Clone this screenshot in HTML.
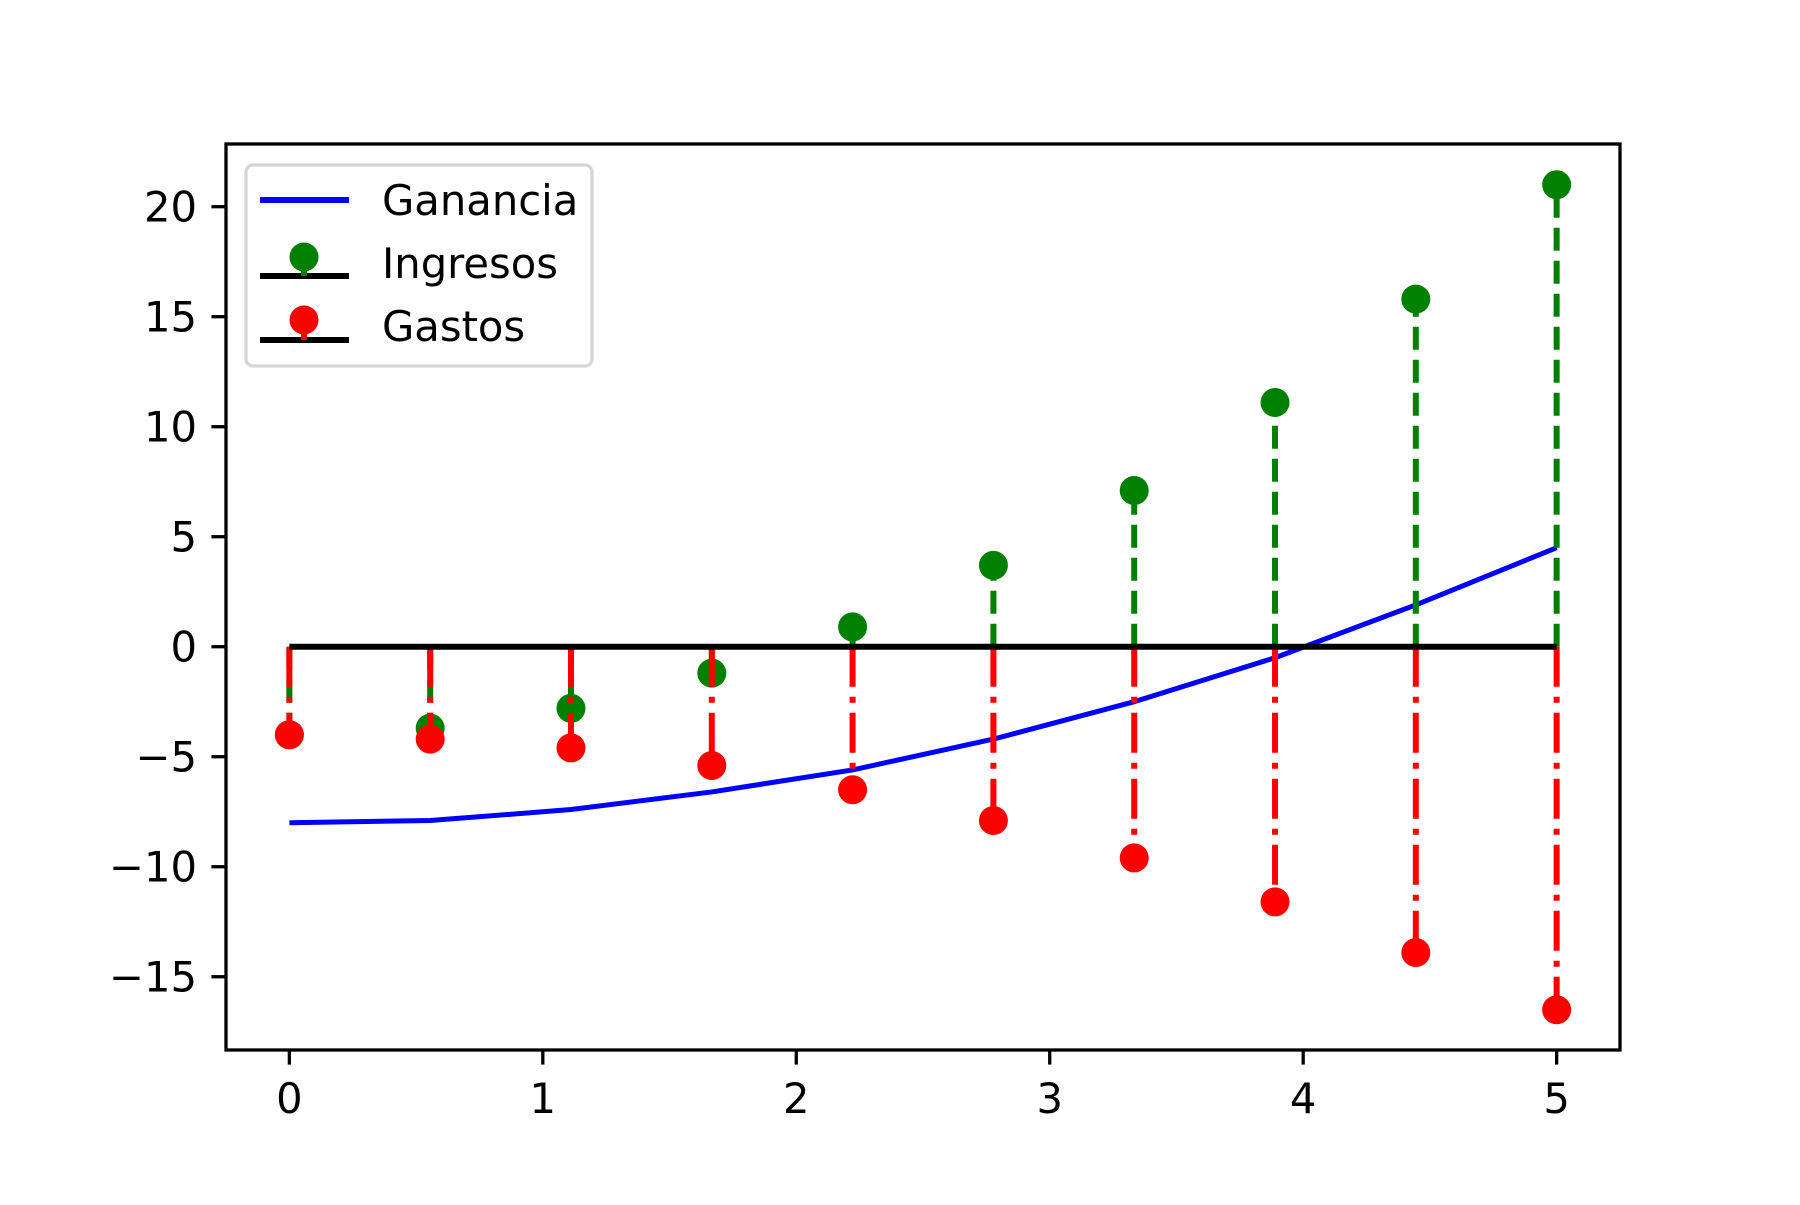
<!DOCTYPE html>
<html><head><meta charset="utf-8"><style>
html,body{margin:0;padding:0;background:#fff;}
svg text{font-family:"DejaVu Sans","Liberation Sans",sans-serif;font-size:41.7px;fill:#000;}
</style></head><body>
<svg id="chart" width="1800" height="1200" viewBox="0 0 1800 1200" xmlns="http://www.w3.org/2000/svg">
<rect width="1800" height="1200" fill="#fff"/>
<g id="plot"></g>
</svg>
<script>
const xValues = [0, 0.5556, 1.1111, 1.6667, 2.2222, 2.7778, 3.3333, 3.8889, 4.4444, 5];
const ingresos = [-4, -3.7, -2.8, -1.2, 0.9, 3.7, 7.1, 11.1, 15.8, 21.0];
const gastos = [-4, -4.2, -4.6, -5.4, -6.5, -7.9, -9.6, -11.6, -13.9, -16.5];
const ganancia = [-8, -7.9, -7.4, -6.6, -5.6, -4.2, -2.5, -0.5, 1.9, 4.5];
const xTicks = [0, 1, 2, 3, 4, 5];
const yTicks = [-15, -10, -5, 0, 5, 10, 15, 20];

const L=226, R=1620, T=144, B=1050;
const xmin=-0.25, xmax=5.25, ymin=-18.33, ymax=22.85;
const sx = v => L + (v - xmin) / (xmax - xmin) * (R - L);
const sy = v => B - (v - ymin) / (ymax - ymin) * (B - T);
const NS = "http://www.w3.org/2000/svg";
const g = document.getElementById('plot');
function mk(tag, attrs, parent){const e=document.createElementNS(NS,tag);for(const k in attrs)e.setAttribute(k,attrs[k]);(parent||g).appendChild(e);return e;}

// Ganancia line
const gp = mk('polyline',{points:xValues.map((x,i)=>sx(x)+','+sy(ganancia[i])).join(' '),fill:'none',stroke:'#0000ff','stroke-width':5});



// Ingresos stems
xValues.forEach((x,i)=>{
  const s = mk('line',{x1:sx(x),x2:sx(x),y1:sy(0),y2:sy(ingresos[i]),stroke:'#008000','stroke-width':6,'stroke-dasharray':'23 10'});
  
  
  const c = mk('circle',{cx:sx(x),cy:sy(ingresos[i]),r:14.5,fill:'#008000'});
  
  
});
// Gastos stems
xValues.forEach((x,i)=>{
  const s = mk('line',{x1:sx(x),x2:sx(x),y1:sy(0),y2:sy(gastos[i]),stroke:'#ff0000','stroke-width':6,'stroke-dasharray':'40 10 6 10'});
  
  
  const c = mk('circle',{cx:sx(x),cy:sy(gastos[i]),r:14.5,fill:'#ff0000'});
  
  
});
// baseline
const bl = mk('line',{x1:sx(xValues[0]),x2:sx(xValues[xValues.length-1]),y1:sy(0),y2:sy(0),stroke:'#000','stroke-width':6});



// axes frame
const fr = mk('rect',{x:L,y:T,width:R-L,height:B-T,fill:'none',stroke:'#000','stroke-width':3.3});



// ticks
xTicks.forEach(t=>{
  const tk = mk('line',{x1:sx(t),x2:sx(t),y1:B,y2:B+14.6,stroke:'#000','stroke-width':3.3});
  
  
  const tx = mk('text',{x:sx(t),y:B+63,'text-anchor':'middle'});
  tx.textContent = String(t);
  
  
});
yTicks.forEach(t=>{
  const tk = mk('line',{x1:L-14.6,x2:L,y1:sy(t),y2:sy(t),stroke:'#000','stroke-width':3.3});
  
  
  const tx = mk('text',{x:L-29,y:sy(t)+15,'text-anchor':'end'});
  tx.textContent = (t<0?'\u2212'+(-t):String(t));
  
  
});

// legend
const lg = mk('g',{});


mk('rect',{x:246,y:165,width:346,height:201,rx:7,fill:'#fff','fill-opacity':0.8,stroke:'#d6d6d6','stroke-width':3.3},lg);
mk('line',{x1:260,x2:349,y1:200,y2:200,stroke:'#0000ff','stroke-width':6},lg);
mk('line',{x1:260,x2:349,y1:276,y2:276,stroke:'#000','stroke-width':6},lg);
mk('line',{x1:304,x2:304,y1:260,y2:276,stroke:'#008000','stroke-width':6},lg);
mk('circle',{cx:304,cy:257,r:14.5,fill:'#008000'},lg);
mk('line',{x1:260,x2:349,y1:340,y2:340,stroke:'#000','stroke-width':6},lg);
mk('line',{x1:304,x2:304,y1:323,y2:340,stroke:'#ff0000','stroke-width':6},lg);
mk('circle',{cx:304,cy:320,r:14.5,fill:'#ff0000'},lg);
[['Ganancia',215,'legend-ganancia'],['Ingresos',278,'legend-ingresos'],['Gastos',341,'legend-gastos']].forEach(([t,y,n])=>{
  const tx = mk('text',{x:382,y:y},lg);
  tx.textContent=t;
  
  
});
</script>
</body></html>
